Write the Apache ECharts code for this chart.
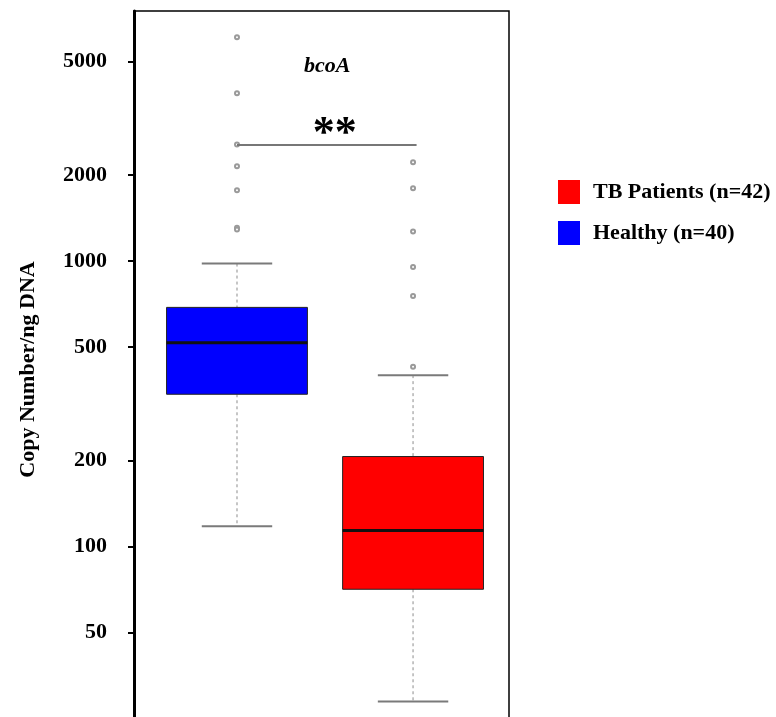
<!DOCTYPE html>
<html>
<head>
<meta charset="utf-8">
<title>bcoA copy number</title>
<script src="https://cdn.jsdelivr.net/npm/echarts@6/dist/echarts.min.js"></script>
<style>
  html, body { margin: 0; padding: 0; background: #fff; }
  #chart { width: 776px; height: 717px; }
</style>
</head>
<body>
<div id="chart"></div>
<script>
// groups on the x axis (left to right) and their positions
const groups = ['Healthy', 'TB Patients']
const groupPos = [1, 2]
// box statistics (copies / ng DNA)
const lowWhisker = [118, 28.7]
const q1 = [342, 71]
const medians = [518, 114]
const q3 = [689, 207]
const highWhisker = [981, 399]
// outliers
const healthyOutliers = [6080, 3870, 2560, 2150, 1770, 1310, 1290]
const tbOutliers = [427, 755, 954, 1270, 1800, 2220]
// y tick labels
const yTicks = [50, 100, 200, 500, 1000, 2000, 5000]
// legend
const legendNames = ['TB Patients (n=42)', 'Healthy (n=40)']
const legendColors = ['#ff0000', '#0000ff']
const boxColors = ['#0000ff', '#ff0000']
const sigLevel = 2550

const serif = '"Liberation Serif", "Times New Roman", serif'

const boxData = groups.map((g, i) => [groupPos[i], lowWhisker[i], q1[i], medians[i], q3[i], highWhisker[i]])
const outlierData = healthyOutliers.map(v => [groupPos[0], v])
  .concat(tbOutliers.map(v => [groupPos[1], v]))

// draw one box with dashed whiskers, like R's boxplot
function renderBox(params, api) {
  const pos = api.value(0)
  const low = api.coord([pos, api.value(1)])
  const lo = api.coord([pos, api.value(2)])
  const med = api.coord([pos, api.value(3)])
  const hi = api.coord([pos, api.value(4)])
  const high = api.coord([pos, api.value(5)])
  const bw = api.size([0.8, 0])[0]
  const x = low[0]
  const whisker = { stroke: '#a0a0a0', lineWidth: 1.2, lineDash: [3, 3] }
  const cap = { stroke: '#7a7a7a', lineWidth: 2 }
  return {
    type: 'group',
    children: [
      { type: 'line', shape: { x1: x, y1: high[1], x2: x, y2: hi[1] }, style: whisker },
      { type: 'line', shape: { x1: x, y1: lo[1], x2: x, y2: low[1] }, style: whisker },
      { type: 'line', shape: { x1: x - bw / 4, y1: high[1], x2: x + bw / 4, y2: high[1] }, style: cap },
      { type: 'line', shape: { x1: x - bw / 4, y1: low[1], x2: x + bw / 4, y2: low[1] }, style: cap },
      {
        type: 'rect',
        shape: { x: x - bw / 2, y: hi[1], width: bw, height: lo[1] - hi[1] },
        style: { fill: boxColors[params.dataIndex], stroke: '#222', lineWidth: 1 }
      },
      { type: 'line', shape: { x1: x - bw / 2, y1: med[1], x2: x + bw / 2, y2: med[1] }, style: { stroke: '#111', lineWidth: 3 } }
    ]
  }
}

const chart = echarts.init(document.getElementById('chart'))
const option = {
  animation: false,
  title: {
    text: 'bcoA',
    left: 299,
    top: 50,
    textStyle: { fontFamily: serif, fontStyle: 'italic', fontWeight: 'bold', fontSize: 22, color: '#000' }
  },
  legend: {
    data: legendNames,
    orient: 'vertical',
    left: 553,
    top: 175,
    icon: 'rect',
    itemWidth: 22,
    itemHeight: 24,
    itemGap: 17,
    selectedMode: false,
    textStyle: { fontFamily: serif, fontWeight: 'bold', fontSize: 22, color: '#000', padding: [0, 0, 0, 8] }
  },
  grid: {
    left: 134,
    width: 375,
    top: 11,
    height: 717,
    outerBoundsMode: 'none',
    show: true,
    borderColor: '#000',
    borderWidth: 1.5
  },
  xAxis: {
    type: 'value',
    min: 0.415,
    max: 2.545,
    axisLine: { show: false },
    axisTick: { show: false },
    axisLabel: { show: false },
    splitLine: { show: false }
  },
  yAxis: {
    type: 'log',
    logBase: 10,
    min: 23.2,
    max: 7516,
    name: 'Copy Number/ng DNA',
    nameLocation: 'middle',
    nameGap: 95,
    nameTextStyle: { fontFamily: serif, fontWeight: 'bold', fontSize: 22, color: '#000' },
    axisLine: { show: true, lineStyle: { color: '#000', width: 3 } },
    axisTick: { show: true, length: 6, customValues: yTicks, lineStyle: { color: '#000', width: 2 } },
    axisLabel: {
      customValues: yTicks,
      formatter: v => String(Math.round(v)),
      margin: 27,
      fontFamily: serif,
      fontWeight: 'bold',
      fontSize: 22,
      color: '#000'
    },
    splitLine: { show: false }
  },
  series: [
    {
      type: 'custom',
      name: 'boxes',
      renderItem: renderBox,
      encode: { x: 0, y: [1, 2, 3, 4, 5] },
      data: boxData,
      z: 2
    },
    {
      type: 'scatter',
      name: 'outliers',
      symbol: 'emptyCircle',
      symbolSize: 4,
      itemStyle: { color: '#9a9a9a', borderColor: '#9a9a9a', borderWidth: 1, opacity: 1 },
      data: outlierData,
      z: 3,
      markLine: {
        silent: true,
        symbol: 'none',
        lineStyle: { color: '#777', width: 2, type: 'solid' },
        label: {
          show: true,
          position: 'middle',
          formatter: '**',
          fontFamily: serif,
          fontWeight: 'bold',
          fontSize: 44,
          color: '#000',
          distance: -12,
          padding: [0, 0, 0, 16]
        },
        data: [[{ coord: [groupPos[0], sigLevel] }, { coord: [groupPos[1] + 0.02, sigLevel] }]]
      }
    },
    { type: 'scatter', name: legendNames[0], itemStyle: { color: legendColors[0], opacity: 1 }, data: [] },
    { type: 'scatter', name: legendNames[1], itemStyle: { color: legendColors[1], opacity: 1 }, data: [] }
  ]
}
chart.setOption(option)
</script>
</body>
</html>
